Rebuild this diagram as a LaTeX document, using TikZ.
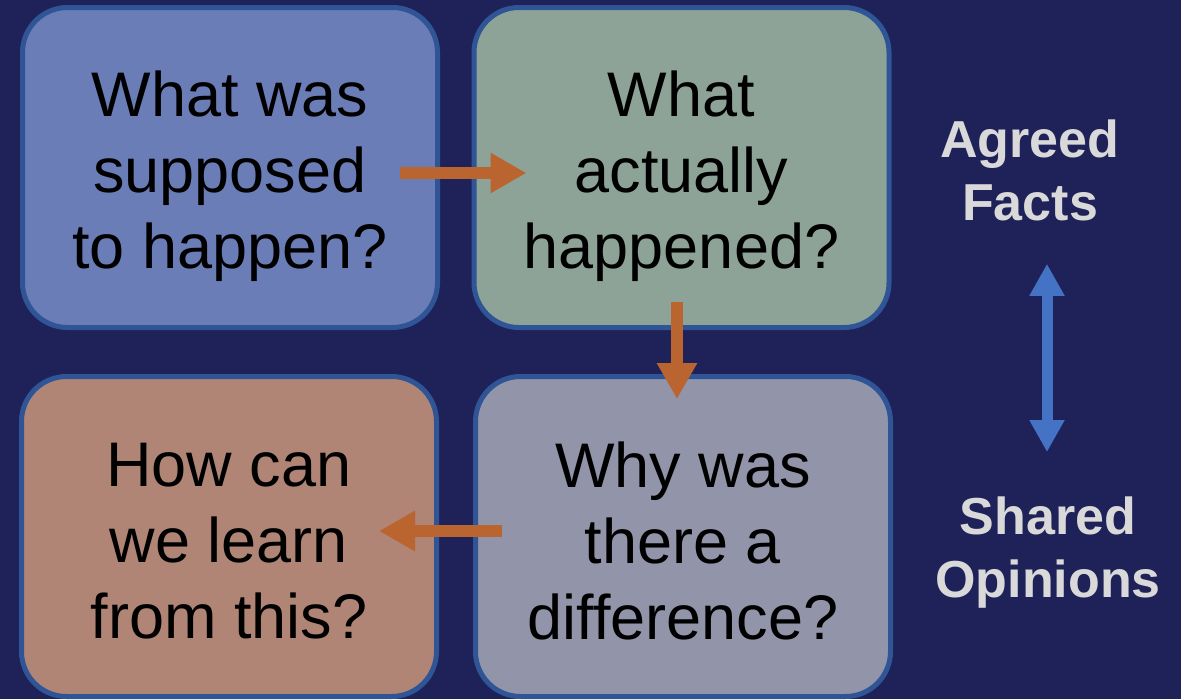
\documentclass[tikz,border=0pt]{standalone}
\usepackage{fontspec}
\setmainfont{Liberation Sans}
\usetikzlibrary{arrows.meta}
\definecolor{navy}{HTML}{1F2259}
\definecolor{rim}{HTML}{2F5597}
\definecolor{plancol}{HTML}{6A7DB6}
\definecolor{actualcol}{HTML}{8DA397}
\definecolor{whycol}{HTML}{9294A9}
\definecolor{learncol}{HTML}{B08576}
\definecolor{rust}{HTML}{BA6530}
\definecolor{sky}{HTML}{4472C4}
\definecolor{pale}{HTML}{D9D9D9}

\begin{document}
\begin{tikzpicture}[x=1pt,y=-1pt,
	box/.style={draw=rim,line width=5pt,rounded corners=45pt,minimum width=415pt,minimum height=320pt},
	boxtext/.style={font=\fontsize{63}{76}\selectfont,align=center,inner sep=0pt},
	side/.style={font=\fontsize{52}{63}\selectfont\bfseries,text=pale,align=center,inner sep=0pt},
	flow/.style={draw=rust,line width=12pt,-{Triangle[width=38pt,length=36pt]}},
	span/.style={draw=sky,line width=11pt,{Triangle[width=33pt,length=32pt]}-{Triangle[width=33pt,length=32pt]}}]
	\useasboundingbox (0,0) rectangle (1181,699);
	\fill[navy] (0,0) rectangle (1181,699);
	\draw (230,167.5) node(plan) [box,fill=plancol] {};
	\node [boxtext] at ([yshift=-9pt]plan.center) {What was\\supposed\\to happen?};
	\draw (681.5,167.5) node(actual) [box,fill=actualcol] {};
	\node [boxtext] at ([yshift=-9pt]actual.center) {What\\actually\\happened?};
	\draw (683,536.5) node(why) [box,fill=whycol] {};
	\node [boxtext] at ([yshift=-4.5pt]why.center) {Why was\\there a\\difference?};
	\draw (229,536.5) node(learn) [box,fill=learncol] {};
	\node [boxtext] at ([yshift=-4.5pt]learn.center) {How can\\we learn\\from this?};
	\draw (1030,170) node(facts) [side] {Agreed\\Facts};
	\draw (1048,553) node(opinions) [side] {Shared\\Opinions};
	\draw[flow] ([xshift=-40pt,yshift=-5.5pt]plan.east) -- ([xshift=55pt,yshift=-5.5pt]actual.west);
	\draw[flow] ([xshift=-4.5pt,yshift=28pt]actual.south) -- ([xshift=-6pt,yshift=-25pt]why.north);
	\draw[flow] ([xshift=29pt,yshift=5.5pt]why.west) -- ([xshift=-60pt,yshift=5.5pt]learn.east);
	\draw[span] ([xshift=17pt,yshift=-43pt]facts.south) -- ([xshift=-1pt,yshift=45pt]opinions.north);
\end{tikzpicture}
\end{document}
